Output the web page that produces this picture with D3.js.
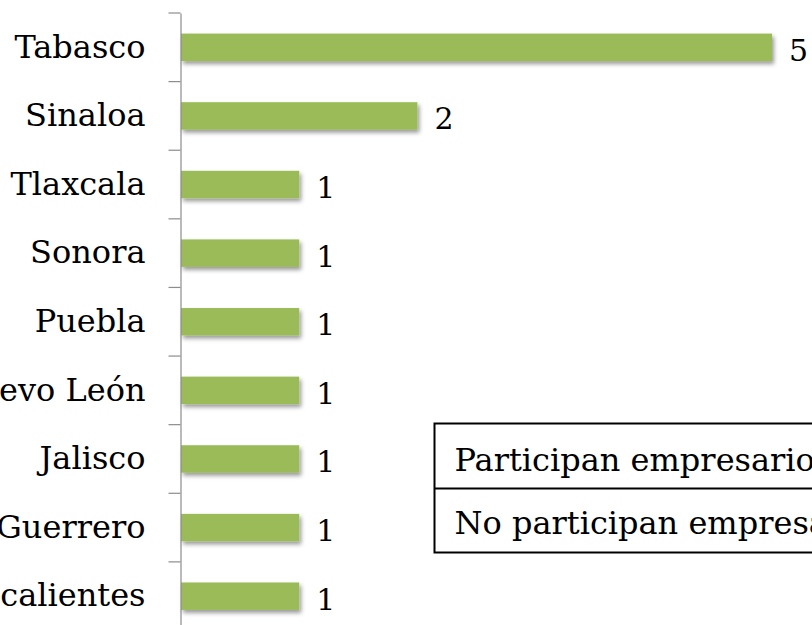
<!DOCTYPE html>
<html>
<head>
<meta charset="utf-8">
<script src="https://cdn.jsdelivr.net/npm/d3@7"></script>
<style>
  body { margin: 0; background: #fff; }
  svg { display: block; font-family: "DejaVu Serif", serif; }
</style>
</head>
<body>
<div id="graph"></div>
<script>
// Horizontal bar chart: states and counts

const states = ['Tabasco', 'Sinaloa', 'Tlaxcala', 'Sonora', 'Puebla', 'Nuevo León', 'Jalisco', 'Guerrero', 'Aguascalientes'];
const counts = [5, 2, 1, 1, 1, 1, 1, 1, 1];
const legendRows = ['Participan empresarios', 'No participan empresarios'];

const graph = { width: 812, height: 625 };
const axisX = 180.5;

const svg = d3.select('#graph').append('svg')
  .attr('width', graph.width)
  .attr('height', graph.height);

// soft shadow under the bars
const shadow = svg.append('defs').append('filter')
  .attr('id', 'shadow')
  .attr('x', '-5%').attr('y', '-20%')
  .attr('width', '115%').attr('height', '160%');
shadow.append('feDropShadow')
  .attr('dx', 2).attr('dy', 3)
  .attr('stdDeviation', 2)
  .attr('flood-color', '#000')
  .attr('flood-opacity', 0.4);

const y = d3.scaleBand()
  .domain(states)
  .range([13, 630.5])
  .padding(0);

const x = d3.scaleLinear()
  .domain([0, 5])
  .range([axisX + 0.5, 772]);

const barH = y.bandwidth() * 0.4;

// bars
svg.selectAll('.bar')
  .data(states)
  .enter().append('rect')
    .attr('class', 'bar')
    .attr('x', x(0))
    .attr('y', d => y(d) + (y.bandwidth() - barH) / 2)
    .attr('width', (d, i) => x(counts[i]) - x(0))
    .attr('height', barH)
    .attr('fill', '#9BBB59')
    .attr('filter', 'url(#shadow)');

// value labels
svg.selectAll('.value')
  .data(states)
  .enter().append('text')
    .attr('class', 'value')
    .attr('x', (d, i) => x(counts[i]) + 17)
    .attr('y', d => y(d) + y.bandwidth() / 2)
    .attr('dy', '0.45em')
    .attr('font-size', 30)
    .attr('fill', '#000')
    .text((d, i) => counts[i]);

// category axis with labels
const axis = svg.append('g')
  .attr('transform', `translate(${axisX},0)`)
  .call(d3.axisLeft(y).tickSize(0).tickPadding(35));
axis.select('.domain').attr('stroke', '#8c8c8c').attr('stroke-width', 1.2);
axis.selectAll('.tick text')
  .attr('font-family', '"DejaVu Serif", serif')
  .attr('font-size', 32)
  .attr('fill', '#000');

// tick marks between categories
const bounds = states.map(d => y(d)).concat([y.range()[1]]);
svg.selectAll('.sep')
  .data(bounds)
  .enter().append('line')
    .attr('class', 'sep')
    .attr('x1', axisX - 12).attr('x2', axisX)
    .attr('y1', d => d).attr('y2', d => d)
    .attr('stroke', '#8c8c8c')
    .attr('stroke-width', 1.2);

// table-style box with the two rows
const box = svg.append('g').attr('transform', 'translate(434.5,423.5)');
box.append('rect')
  .attr('width', 500).attr('height', 129)
  .attr('fill', '#fff')
  .attr('stroke', '#000')
  .attr('stroke-width', 2);
box.append('line')
  .attr('x1', 0).attr('x2', 500)
  .attr('y1', 65).attr('y2', 65)
  .attr('stroke', '#000')
  .attr('stroke-width', 2);
box.selectAll('.row')
  .data(legendRows)
  .enter().append('text')
    .attr('class', 'row')
    .attr('x', 20)
    .attr('y', (d, i) => 47 + i * 63)
    .attr('font-size', 32)
    .attr('fill', '#000')
    .text(d => d);
</script>
</body>
</html>
